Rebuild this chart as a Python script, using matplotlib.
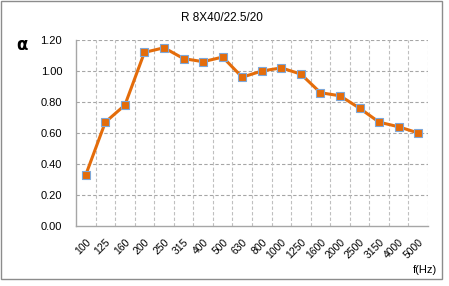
import matplotlib as mpl
import matplotlib.pyplot as plt
from matplotlib.patches import Rectangle

mpl.rcParams['font.family'] = 'Liberation Sans'

freqs = ['100', '125', '160', '200', '250', '315', '400', '500', '630', '800',
         '1000', '1250', '1600', '2000', '2500', '3150', '4000', '5000']
alpha = [0.33, 0.67, 0.78, 1.12, 1.15, 1.08, 1.06, 1.09, 0.96, 1.00,
         1.02, 0.98, 0.86, 0.84, 0.76, 0.67, 0.64, 0.60]
yticks = [0.0, 0.2, 0.4, 0.6, 0.8, 1.0, 1.2]

fig = plt.figure(figsize=(4.49, 2.86), dpi=100)
ax = fig.add_axes([76/449, 1 - 226/286, 352/449, 186/286])

pos = list(range(len(freqs)))
ax.plot(pos, alpha, color='#E46C0A', lw=2.2, marker='s', markersize=5.5,
        markerfacecolor='#E46C0A', markeredgecolor='#7DA7D9', markeredgewidth=0.8,
        zorder=3)

ax.set_xlim(-0.5, len(freqs) - 0.5)
ax.set_ylim(0, 1.2)
ax.set_yticks(yticks)
ax.set_yticklabels(['%.2f' % v for v in yticks], fontsize=8)
ax.set_xticks(pos)
ax.set_xticklabels(freqs, fontsize=7.5, rotation=45, ha='right',
                   rotation_mode='anchor')
ax.tick_params(axis='both', length=0)
ax.tick_params(axis='y', pad=10)
ax.tick_params(axis='x', pad=8)

# grid
for v in yticks[1:]:
    ax.axhline(v, color='#A6A6A6', lw=0.8, ls=(0, (3, 2)), zorder=1)
for k in range(1, len(freqs) + 1):
    ax.axvline(k - 0.5, color='#BFBFBF', lw=0.8, ls=(0, (3, 2)), zorder=1)

for s in ['top', 'right']:
    ax.spines[s].set_visible(False)
for s in ['left', 'bottom']:
    ax.spines[s].set_color('#A6A6A6')
    ax.spines[s].set_linewidth(1.0)

fig.text(222/449, 1 - 18/286, 'R 8X40/22.5/20', ha='center', va='center', fontsize=8.5)
fig.text(22/449, 1 - 45/286, 'α', ha='center', va='center', fontsize=12,
         family='DejaVu Sans', weight='bold')
fig.text(425/449, 1 - 270/286, 'f(Hz)', ha='center', va='center', fontsize=8)

fig.patches.append(Rectangle((1/449, 1 - 279/286), 441/449, 278/286,
                             transform=fig.transFigure, fill=False,
                             edgecolor='#8C8C8C', lw=1.0))

fig.savefig('out.png', dpi=100)
